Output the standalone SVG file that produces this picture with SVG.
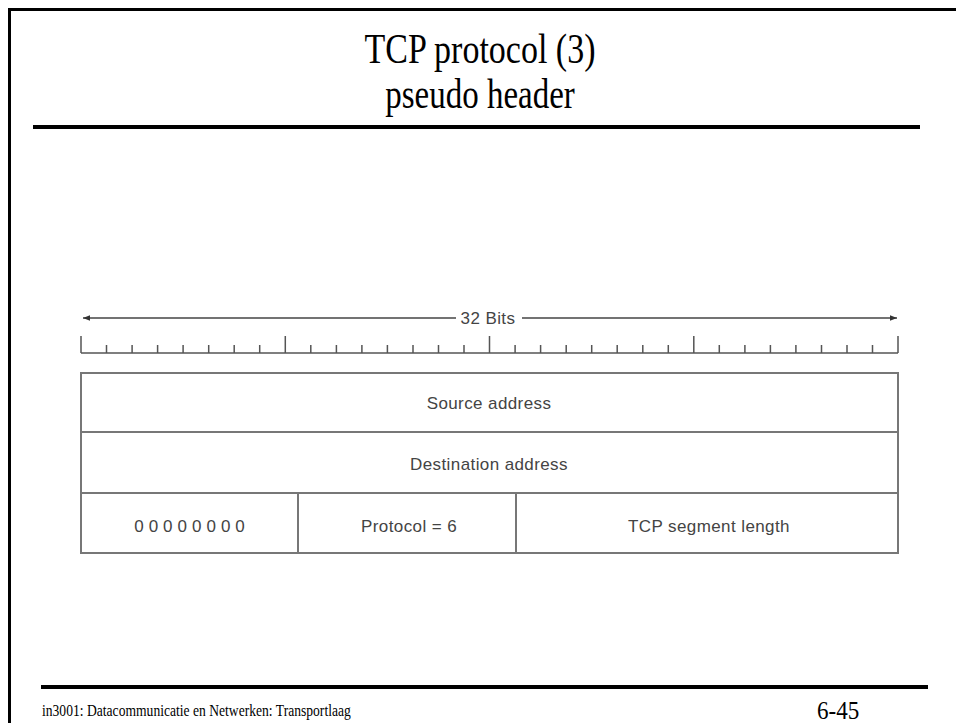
<svg xmlns="http://www.w3.org/2000/svg" width="956" height="723" viewBox="0 0 956 723">
  <style>
    .frame { stroke: #000; stroke-width: 3; fill: none; }
    .rule { stroke: #000; stroke-width: 4; }
    .title { font-family: "Liberation Serif", "Times New Roman", serif; font-size: 34px; fill: #000; text-anchor: middle; }
    .foot { font-family: "Liberation Serif", "Times New Roman", serif; fill: #000; }
    .cell { fill: #fff; stroke: #777; stroke-width: 2; }
    .tick { stroke: #555; stroke-width: 1.5; }
    .lbl { font-family: "Liberation Sans", Arial, sans-serif; font-size: 17px; fill: #444; text-anchor: middle; letter-spacing: 0.4px; }
    .dim { stroke: #444; stroke-width: 1.5; fill: none; }
  </style>
  <defs>
    <marker id="ah" viewBox="0 0 10 10" refX="10" refY="5" markerWidth="9" markerHeight="7" markerUnits="userSpaceOnUse" orient="auto-start-reverse">
      <path d="M0,1 L10,5 L0,9 Z" fill="#333"/>
    </marker>
  </defs>

  <rect width="956" height="723" fill="#fff"/>

  <!-- slide frame -->
  <path class="frame" d="M9.5,723 V9.5 H956"/>

  <!-- title (serif face, slightly tall) -->
  <g id="title">
    <text class="title" transform="translate(480,63) scale(1,1.22)">TCP protocol (3)</text>
    <text class="title" transform="translate(480,108) scale(0.97,1.22)">pseudo header</text>
  </g>
  <line class="rule" x1="33" y1="127" x2="920" y2="127"/>

  <!-- width indicator: 32 bits -->
  <g id="width-arrow">
    <line class="dim" x1="456" y1="318" x2="83" y2="318" marker-end="url(#ah)"/>
    <line class="dim" x1="522" y1="318" x2="897" y2="318" marker-end="url(#ah)"/>
    <text class="lbl" x="488" y="324">32 Bits</text>
  </g>

  <!-- bit ruler: 32 positions, major ticks every 8 bits -->
  <g id="ruler">
    <line class="tick" x1="81" y1="353" x2="898" y2="353"/>
    <path class="tick" d="M81,336 V353 M285.3,336 V353 M489.5,336 V353 M693.8,336 V353 M898,336 V353"/>
    <path class="tick" d="M106.5,345 V353 M132.1,345 V353 M157.6,345 V353 M183.1,345 V353 M208.7,345 V353 M234.2,345 V353 M259.7,345 V353
                          M310.8,345 V353 M336.4,345 V353 M361.9,345 V353 M387.4,345 V353 M413,345 V353 M438.5,345 V353 M464,345 V353
                          M515.1,345 V353 M540.6,345 V353 M566.2,345 V353 M591.7,345 V353 M617.2,345 V353 M642.8,345 V353 M668.3,345 V353
                          M719.3,345 V353 M744.9,345 V353 M770.4,345 V353 M795.9,345 V353 M821.5,345 V353 M847,345 V353 M872.5,345 V353"/>
  </g>

  <!-- pseudo header fields -->
  <g id="source-address">
    <rect class="cell" x="81" y="373" width="817" height="59"/>
    <text class="lbl" x="489" y="409">Source address</text>
  </g>
  <g id="destination-address">
    <rect class="cell" x="81" y="432" width="817" height="61"/>
    <text class="lbl" x="489" y="470">Destination address</text>
  </g>
  <g id="zeros">
    <rect class="cell" x="81" y="493" width="217" height="60"/>
    <text class="lbl" x="192" y="532" style="letter-spacing:5px">00000000</text>
  </g>
  <g id="protocol">
    <rect class="cell" x="298" y="493" width="218" height="60"/>
    <text class="lbl" x="409" y="532">Protocol = 6</text>
  </g>
  <g id="segment-length">
    <rect class="cell" x="516" y="493" width="382" height="60"/>
    <text class="lbl" x="709" y="532">TCP segment length</text>
  </g>

  <!-- footer -->
  <line class="rule" x1="41" y1="687" x2="928" y2="687"/>
  <g id="footer">
    <text class="foot" font-size="13.6" transform="translate(42,716) scale(1,1.2)">in3001: Datacommunicatie en Netwerken: Transportlaag</text>
    <text class="foot" font-size="22" transform="translate(817,719) scale(1.05,1.15)">6-45</text>
  </g>
</svg>
